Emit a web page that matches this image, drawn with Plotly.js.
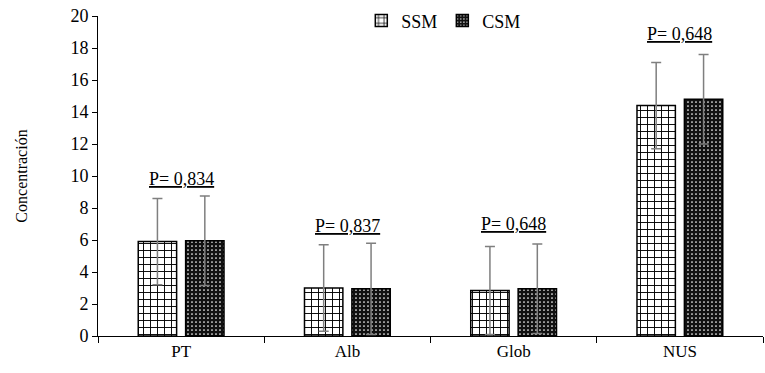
<!DOCTYPE html>
<html>
<head>
<meta charset="utf-8">
<script src="https://cdn.plot.ly/plotly-3.0.1.min.js"></script>
</head>
<body style="margin:0;background:#fff">
<div style="position:absolute;left:0;top:0;z-index:-1;font-family:'Times New Roman';font-size:16px;color:#fff">PT Alb Glob NUS SSM CSM P= 0,834 Concentración 0123456789</div>
<div id="chart" style="width:765px;height:373px"></div>
<script>
const categories = ['PT', 'Alb', 'Glob', 'NUS'];
const ssmValues = [5.9, 3.0, 2.85, 14.4];
const ssmErrors = [2.7, 2.7, 2.75, 2.7];
const csmValues = [5.95, 2.95, 2.95, 14.8];
const csmErrors = [2.8, 2.85, 2.8, 2.8];
const pLabels = ['P= 0,834', 'P= 0,837', 'P= 0,648', 'P= 0,648'];
const pLabelY = [9.8, 6.9, 7.0, 18.9];

const serif = 'Times New Roman';

const traces = [
  {
    type: 'bar', name: 'SSM', x: categories, y: ssmValues,
    error_y: {type: 'data', array: ssmErrors, visible: true, color: '#7f7f7f', thickness: 1.5, width: 5},
    marker: {color: 'white', line: {color: '#000', width: 1.5},
      pattern: {shape: '+', fgcolor: '#000', bgcolor: '#fff', size: 7, solidity: 0.25}}
  },
  {
    type: 'bar', name: 'CSM', x: categories, y: csmValues,
    error_y: {type: 'data', array: csmErrors, visible: true, color: '#7f7f7f', thickness: 1.5, width: 5},
    marker: {color: '#111', line: {color: '#000', width: 1.5},
      pattern: {shape: '.', fgcolor: '#fff', bgcolor: '#111', size: 4, solidity: 0.15}}
  }
];

const annotations = categories.map((c, i) => ({
  x: c, y: pLabelY[i], xref: 'x', yref: 'y', text: pLabels[i],
  showarrow: false, yanchor: 'middle', xanchor: 'center',
  font: {family: serif, size: 18, color: '#000', lineposition: 'under'}
}));

const layout = {
  width: 765, height: 373,
  margin: {l: 98, r: 2, t: 10, b: 37},
  paper_bgcolor: '#fff', plot_bgcolor: '#fff',
  bargap: 0.43, bargroupgap: 0.19,
  barmode: 'group',
  showlegend: true,
  legend: {orientation: 'h', x: 0.52, y: 0.985, xanchor: 'center', yanchor: 'middle',
    font: {family: serif, size: 18, color: '#000'}, itemwidth: 30, tracegroupgap: 0,
    bgcolor: 'rgba(0,0,0,0)'},
  xaxis: {
    type: 'category', showline: true, linecolor: '#000', linewidth: 1,
    ticks: 'outside', tickson: 'boundaries', ticklen: 6, tickcolor: '#000',
    showgrid: false, tickfont: {family: serif, size: 17, color: '#000'}
  },
  yaxis: {
    range: [0, 20], dtick: 2, showline: true, linecolor: '#000', linewidth: 1,
    ticks: 'outside', ticklen: 5, tickcolor: '#000', showgrid: false, zeroline: false,
    tickfont: {family: serif, size: 18, color: '#000'},
    title: {text: 'Concentración', font: {family: serif, size: 16, color: '#000'}, standoff: 38}
  },
  annotations: annotations
};

Plotly.newPlot('chart', traces, layout, {displayModeBar: false});
</script>
</body>
</html>
